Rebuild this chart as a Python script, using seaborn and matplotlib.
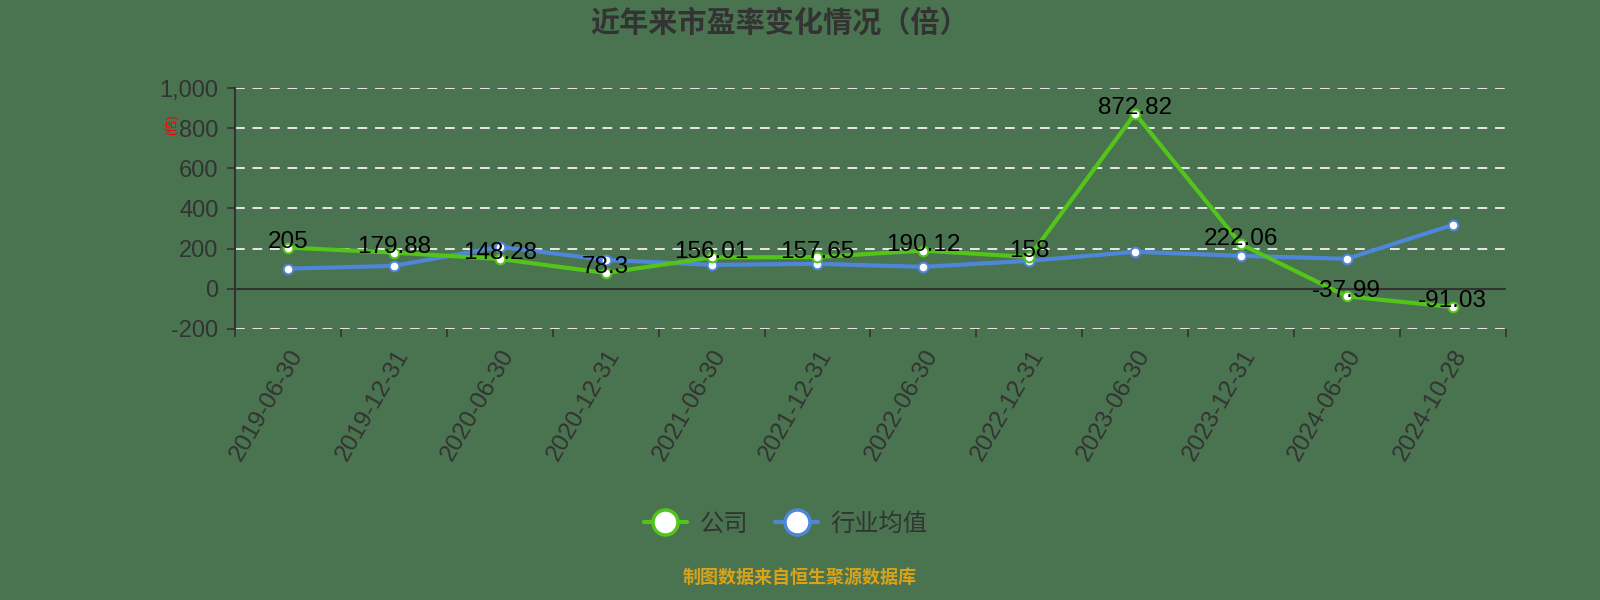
import pandas as pd
import matplotlib
matplotlib.use('Agg')
import matplotlib.pyplot as plt
import seaborn as sns

# chart data
dates = ['2019-06-30', '2019-12-31', '2020-06-30', '2020-12-31', '2021-06-30', '2021-12-31',
         '2022-06-30', '2022-12-31', '2023-06-30', '2023-12-31', '2024-06-30', '2024-10-28']
company_pe = [205, 179.88, 148.28, 78.3, 156.01, 157.65, 190.12, 158, 872.82, 222.06, -37.99, -91.03]
company_labels = ['205', '179.88', '148.28', '78.3', '156.01', '157.65', '190.12', '158',
                  '872.82', '222.06', '-37.99', '-91.03']
industry_pe = [100, 114, 209, 144, 119, 124, 109, 139, 184, 164, 149, 318]
series_names = ['公司', '行业均值']
y_ticks = [-200, 0, 200, 400, 600, 800, 1000]

bg = '#4a7350'
green = '#52c41a'
blue = '#4f86d9'
dark = '#333333'

sns.set_style('ticks')
plt.rcParams['font.family'] = ['Liberation Sans', 'Noto Sans CJK SC', 'DejaVu Sans']
plt.rcParams['axes.unicode_minus'] = False

df = pd.DataFrame({
    'date': dates * 2,
    'pe': company_pe + industry_pe,
    'series': [series_names[0]] * len(dates) + [series_names[1]] * len(dates),
})

fig = plt.figure(figsize=(16, 6), dpi=100, facecolor=bg)
ax = fig.add_axes([0.147, 0.452, 0.794, 0.401])
ax.set_facecolor(bg)

sns.lineplot(data=df, x='date', y='pe', hue='series', palette=[green, blue],
             linewidth=3, marker='o', markersize=7, markerfacecolor='white',
             markeredgewidth=1.5, ax=ax, legend=False, sort=False)
for line, c in zip(ax.lines, [green, blue]):
    line.set_markeredgecolor(c)
ax.lines[1].set_zorder(3)
ax.lines[0].set_zorder(4)

ax.set_xlim(-0.5, len(dates) - 0.5)
ax.set_ylim(-200, 1000)
ax.set_yticks(y_ticks)
ax.set_yticklabels([f'{v:,}' for v in y_ticks], fontsize=17, color=dark)
ax.tick_params(axis='y', length=6, width=1.2, color=dark, pad=6)

# x ticks at category boundaries, labels at centres
ax.set_xticks(range(len(dates)))
ax.set_xticklabels(dates, rotation=60, ha='right', rotation_mode='anchor', fontsize=17.5, color=dark)
ax.set_xticks([i - 0.5 for i in range(len(dates) + 1)], minor=True)
ax.tick_params(axis='x', which='major', length=0, pad=12)
ax.tick_params(axis='x', which='minor', length=6, width=1.2, color=dark)

for v in y_ticks:
    if v != 0:
        ax.axhline(v, color='#e8e8e8', lw=1.4, ls=(0, (5, 4)), zorder=1)
ax.axhline(0, color=dark, lw=1.5, zorder=2)
ax.spines['left'].set_color(dark)
ax.spines['left'].set_linewidth(1.5)
for s in ['top', 'right', 'bottom']:
    ax.spines[s].set_visible(False)
ax.set_xlabel('')
ax.set_ylabel('')

for i, (v, lab) in enumerate(zip(company_pe, company_labels)):
    ax.annotate(lab, (i, v), xytext=(0, 4), textcoords='offset points',
                ha='center', va='center', fontsize=17.5, color='black', zorder=6)

fig.text(0.1075, 0.792, '(倍)', rotation=90, color='red', fontsize=9, ha='center', va='center')
fig.text(0.487, 0.963, '近年来市盈率变化情况（倍）', fontsize=21, fontweight='bold',
         color=dark, ha='center', va='center', family=['Noto Sans CJK SC', 'DejaVu Sans'])

# legend
handles = [plt.Line2D([], [], color=c, lw=3, marker='o', markersize=18,
                      markerfacecolor='white', markeredgecolor=c, markeredgewidth=2.5)
           for c in [green, blue]]
fig.legend(handles, series_names, loc='center', bbox_to_anchor=(0.491, 0.127), ncol=2,
           frameon=False, handlelength=1.8, columnspacing=1.1, handletextpad=0.5,
           labelcolor=dark, prop={'family': ['Noto Sans CJK SC'], 'size': 17.5})

fig.text(0.5, 0.037, '制图数据来自恒生聚源数据库', fontsize=13, color='#d9a21b', fontweight='bold',
         ha='center', va='center', family=['Noto Sans CJK SC'])

fig.savefig('out.png', dpi=100, facecolor=bg)
